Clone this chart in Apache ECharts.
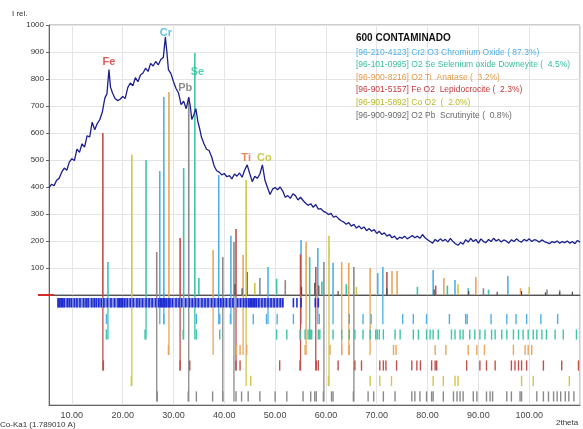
<!DOCTYPE html>
<html>
<head>
<meta charset="utf-8">
<script src="https://cdn.jsdelivr.net/npm/echarts@6/dist/echarts.min.js"></script>
<style>
  html, body { margin: 0; padding: 0; background: #fff; }
  #chart { width: 583px; height: 429px; }
</style>
</head>
<body>
<div id="chart"></div>
<script>
// measured pattern [2theta, I rel]
const pattern = [
  [5.5, 398], [6.0, 410], [6.5, 405], [7.0, 425], [7.5, 432], [8.0, 455], [8.5, 470], [9.0, 462],
  [9.5, 492], [10.0, 505], [10.5, 498], [11.0, 540], [11.5, 528], [12.0, 560], [12.5, 548], [13.0, 590],
  [13.5, 585], [14.0, 640], [14.5, 612], [15.0, 635], [15.5, 650], [16.0, 678], [16.5, 730], [16.9, 745],
  [17.3, 835], [17.6, 770], [18.0, 748], [18.5, 728], [19.0, 720], [19.5, 725], [20.0, 735], [20.5, 728],
  [21.0, 768], [21.5, 785], [22.0, 775], [22.5, 805], [23.0, 790], [23.5, 815], [24.0, 822], [24.5, 840],
  [25.0, 828], [25.5, 858], [26.0, 848], [26.5, 865], [27.0, 852], [27.5, 872], [28.0, 880], [28.4, 955],
  [28.7, 900], [29.0, 835], [29.5, 820], [30.0, 790], [30.5, 765], [31.0, 748], [31.5, 705], [32.0, 718],
  [32.5, 690], [33.0, 732], [33.3, 700], [33.6, 650], [34.0, 668], [34.4, 690], [34.8, 642], [35.2, 612],
  [35.5, 585], [36.0, 560], [36.5, 540], [37.0, 535], [37.5, 512], [38.0, 478], [38.5, 460], [39.0, 455],
  [39.5, 445], [40.0, 450], [40.5, 438], [41.0, 442], [41.5, 430], [42.0, 448], [42.5, 440], [43.0, 452],
  [43.5, 436], [44.0, 462], [44.5, 482], [45.0, 450], [45.5, 420], [46.0, 440], [46.5, 432], [47.0, 448],
  [47.5, 482], [48.0, 425], [48.5, 398], [49.0, 372], [49.5, 392], [50.0, 398], [50.5, 390], [51.0, 400],
  [51.5, 385], [52.0, 362], [52.5, 368], [53.0, 358], [53.5, 375], [54.0, 368], [54.5, 352], [55.0, 362],
  [55.5, 350], [56.0, 340], [56.5, 332], [57.0, 338], [57.5, 325], [58.0, 335], [58.5, 318], [59.0, 320],
  [59.5, 310], [60.0, 306], [60.5, 298], [61.0, 302], [61.5, 288], [62.0, 292], [62.5, 282], [63.0, 275],
  [63.5, 270], [64.0, 262], [64.5, 268], [65.0, 255], [65.5, 262], [66.0, 248], [66.5, 256], [67.0, 245],
  [67.5, 252], [68.0, 238], [68.5, 246], [69.0, 236], [69.5, 242], [70.0, 228], [70.5, 236], [71.0, 224],
  [71.5, 230], [72.0, 218], [72.5, 224], [73.0, 212], [73.5, 218], [74.0, 206], [74.5, 214], [75.0, 210],
  [75.5, 218], [76.0, 208], [76.5, 214], [77.0, 220], [77.5, 212], [78.0, 218], [78.5, 210], [79.0, 224],
  [79.5, 212], [80.0, 205], [80.5, 198], [81.0, 192], [81.5, 206], [82.0, 198], [82.5, 208], [83.0, 200],
  [83.5, 206], [84.0, 196], [84.5, 210], [85.0, 198], [85.5, 190], [86.0, 184], [86.5, 195], [87.0, 188],
  [87.5, 205], [88.0, 196], [88.5, 210], [89.0, 198], [89.5, 206], [90.0, 192], [90.5, 208], [91.0, 198],
  [91.5, 194], [92.0, 206], [92.5, 198], [93.0, 210], [93.5, 200], [94.0, 206], [94.5, 196], [95.0, 204],
  [95.5, 200], [96.0, 192], [96.5, 205], [97.0, 198], [97.5, 208], [98.0, 200], [98.5, 196], [99.0, 206],
  [99.5, 200], [100.0, 208], [100.5, 198], [101.0, 205], [101.5, 202], [102.0, 196], [102.5, 204], [103.0, 198],
  [103.5, 194], [104.0, 190], [104.5, 198], [105.0, 194], [105.5, 200], [106.0, 192], [106.5, 198], [107.0, 194],
  [107.5, 200], [108.0, 192], [108.5, 198], [109.0, 190], [109.5, 202], [110.0, 196]
];

// phase reference sticks [2theta, I rel]
const crSticks = [[27.3, 459], [28.1, 733], [38.9, 444], [41.3, 219], [48.6, 104], [55.1, 204], [58.4, 174],
  [61.4, 119], [70.2, 81], [71.2, 104], [81.1, 93], [85.4, 56], [95.8, 70]];
const seSticks = [[17.1, 122], [24.6, 500], [32.0, 470], [34.2, 896], [35.0, 63], [50.3, 60], [56.8, 140],
  [59.2, 50], [64.0, 40], [78.0, 30], [83.9, 35], [88.0, 25], [92.0, 20]];
const tiSticks = [[29.1, 752], [37.8, 167], [43.7, 148], [56.1, 196], [63.1, 122], [64.5, 119], [68.7, 100],
  [73.0, 89], [74.0, 89], [83.2, 63], [89.5, 67], [98.3, 25]];
const feSticks = [[16.1, 600], [31.3, 211], [42.3, 244], [44.5, 85], [55.0, 150], [58.0, 104], [72.0, 85], [81.6, 35]];
const coSticks = [[21.8, 519], [44.3, 426], [46.0, 45], [60.6, 219], [66.0, 30], [86.0, 40], [100.0, 30]];
const pbSticks = [[26.7, 159], [33.0, 733], [39.7, 141], [41.9, 196], [47.0, 63], [52.0, 55], [59.6, 122],
  [65.5, 104], [91.0, 25], [103.5, 20], [106.0, 18]];
const peakSticks = [[42.1, 40], [43.5, 25], [55.2, 30], [57.8, 45], [58.6, 35], [62.4, 15], [72.0, 25],
  [81.3, 20], [88.1, 15], [93.7, 12], [98.5, 15], [103.2, 10], [106.0, 10], [108.5, 12]];

// peak positions shown in the lower pane, one row per phase
const crTicks = [16.8, 28.1, 34.5, 39.1, 41.2, 45.7, 48.3, 50.4, 53.6, 58.7, 64.6, 67.3, 68.9, 75.1, 77.2, 79.8,
  84.3, 87.5, 87.8, 92.5, 95.6, 97.4, 99.5, 102.3, 105.6];
const seTicks = [16.8, 24.4, 31.9, 34.5, 39.1, 50.3, 52.3, 54.9, 55.9, 56.5, 56.9, 57.2, 58.5, 58.8, 61.4, 63.1,
  64.6, 65.7, 67.3, 68.7, 69.8, 70.1, 70.5, 71.3, 73.6, 74.6, 77.2, 78.2, 79.8, 80.5, 81.1, 82.1, 84.7, 85.4,
  86.4, 87.0, 88.3, 89.3, 90.3, 91.3, 92.6, 93.3, 94.6, 95.6, 96.9, 97.9, 98.8, 99.8, 100.8, 101.5, 102.5,
  103.4, 105.1, 106.7, 109.3];
const tiTicks = [29.0, 42.4, 43.1, 44.4, 55.9, 60.8, 63.1, 64.6, 73.3, 73.8, 81.5, 83.6, 88.0, 89.7, 91.2,
  96.9, 99.2, 99.8, 100.5];
const feTicks = [16.2, 31.3, 33.2, 42.3, 43.1, 50.9, 54.9, 58.1, 58.5, 62.4, 65.7, 67.0, 70.6, 71.3, 71.8,
  73.9, 76.9, 77.9, 78.6, 80.8, 81.5, 81.8, 87.7, 90.3, 91.6, 93.3, 96.5, 97.2, 97.9, 98.5, 99.5, 102.8,
  106.4, 109.7];
const coTicks = [21.7, 45.2, 60.5, 68.7, 70.6, 72.9, 81.1, 83.1, 85.4, 86.0, 98.5, 100.8, 107.9];
const pbTicks = [26.8, 32.9, 34.5, 37.7, 39.7, 42.3, 43.4, 44.7, 47.0, 50.0, 52.3, 55.5, 57.0, 57.8, 58.1,
  59.5, 61.1, 61.4, 65.4, 68.3, 69.4, 71.3, 73.6, 76.9, 77.5, 78.5, 79.8, 80.8, 81.1, 83.1, 85.1, 85.8, 86.4,
  87.0, 89.0, 89.7, 91.6, 92.3, 92.8, 95.6, 96.5, 98.2, 98.5, 101.5, 102.8, 103.8, 104.8, 105.5, 106.2,
  107.1, 107.8, 108.8];
const blueTicks = [7.3, 7.6, 7.9, 8.2, 8.5, 9.1, 9.5, 9.9, 10.5, 11.0, 11.6, 12.3, 12.8, 13.2, 13.9, 14.4,
  14.8, 15.3, 15.8, 16.3, 17.0, 17.7, 18.4, 19.1, 19.4, 19.7, 20.0, 20.4, 20.9, 21.5, 22.1, 22.8, 23.3, 23.9,
  24.6, 25.2, 25.8, 26.5, 27.1, 27.4, 27.7, 28.0, 28.3, 28.6, 29.0, 29.3, 29.8, 30.5, 31.1, 31.6, 32.4, 33.1,
  33.7, 34.3, 34.9, 35.6, 36.2, 36.8, 37.5, 38.1, 38.8, 39.3, 39.8, 40.4, 41.1, 41.7, 42.6, 43.2, 43.8, 44.3,
  44.8, 45.1, 45.4, 45.7, 46.0, 46.3, 46.8, 47.4, 48.0, 48.6, 49.2, 49.8, 50.4, 51.0, 51.5, 53.6, 54.3, 55.1,
  57.9, 58.5];
const blueBand = [[7.1, 51.7]];

const peakLabels = ['Fe', 'Cr', 'Se', 'Pb', 'Ti', 'Co'];
const peakLabelPos = [[17.3, 862], [28.5, 972], [34.7, 826], [32.3, 766], [44.3, 506], [47.9, 508]];

const phaseNames = [
  '[96-210-4123] Cr2 O3 Chromium Oxide ( 87.3%)',
  '[96-101-0995] O2 Se Selenium oxide Downeyite (  4.5%)',
  '[96-900-8216] O2 Ti  Anatase (  3.2%)',
  '[96-901-5157] Fe O2  Lepidocrocite (  2.3%)',
  '[96-901-5892] Co O2  (  2.0%)',
  '[96-900-9092] O2 Pb  Scrutinyite (  0.8%)'
];

const colors = {
  cr: '#4fb0e6', se: '#3fc4a8', ti: '#eaa65c', fe: '#c0504d', co: '#cfc64e', pb: '#8a8a8a'
};
const labelColors = ['#d42f2f', '#2fb4e0', '#2fc2a0', '#707070', '#e8682e', '#bcbc24'];

const X_MIN = 5.5, X_MAX = 110, LOW_TOP = 7.1;

function stickRender(color, width) {
  return function (params, api) {
    const p0 = api.coord([api.value(0), 0]);
    const p1 = api.coord([api.value(0), api.value(1)]);
    return {
      type: 'line',
      shape: { x1: p0[0], y1: p0[1], x2: p1[0], y2: p1[1] },
      style: { stroke: color, lineWidth: width }
    };
  };
}

function rowRender(color, width, toTop) {
  return function (params, api) {
    const row = api.value(1);
    const p0 = api.coord([api.value(0), row + 0.22]);
    const p1 = api.coord([api.value(0), toTop ? LOW_TOP : row + 0.88]);
    return {
      type: 'line',
      shape: { x1: p0[0], y1: p0[1], x2: p1[0], y2: p1[1] },
      style: { stroke: color, lineWidth: width }
    };
  };
}

function upper(name, data, color) {
  return {
    type: 'custom', name, xAxisIndex: 0, yAxisIndex: 0, z: 2,
    renderItem: stickRender(color, 1.6), encode: { x: 0, y: 1 }, data, silent: true
  };
}

function lower(name, ticks, sticks, row, color) {
  return [
    {
      type: 'custom', name: name + '-long', xAxisIndex: 1, yAxisIndex: 1, z: 2,
      renderItem: rowRender(color, 1.3, true), encode: { x: 0, y: 1 }, silent: true,
      data: sticks.filter(s => s[1] >= 100).map(s => [s[0], row])
    },
    {
      type: 'custom', name: name + '-row', xAxisIndex: 1, yAxisIndex: 1, z: 3,
      renderItem: rowRender(color, 1.4, false), encode: { x: 0, y: 1 }, silent: true,
      data: ticks.map(x => [x, row])
    }
  ];
}

const chart = echarts.init(document.getElementById('chart'));
const grid = { color: '#e4e4e4', width: 1 };
const texts = [
  { type: 'text', left: 12, top: 10, style: { text: 'I rel.', fontSize: 8, fill: '#333' } },
  { type: 'text', left: 0, top: 421, style: { text: 'Co-Ka1 (1.789010 A)', fontSize: 8, fill: '#333' } },
  { type: 'text', left: 556, top: 419, style: { text: '2theta', fontSize: 8, fill: '#333' } }
];

chart.setOption({
  animation: false,
  textStyle: { fontFamily: 'Liberation Sans, Arial, sans-serif' },
  title: {
    text: '600 CONTAMINADO',
    left: 351, top: 28,
    itemGap: 3,
    textStyle: { fontSize: 10, fontWeight: 'bold', color: '#111' },
    subtext: phaseNames.map((t, i) => '{p' + i + '|' + t + '}').join('\n'),
    subtextStyle: {
      fontSize: 8.5, lineHeight: 12.6,
      rich: {
        p0: { color: colors.cr, fontSize: 8.5, lineHeight: 12.6 },
        p1: { color: '#39bca0', fontSize: 8.5, lineHeight: 12.6 },
        p2: { color: '#e39a4a', fontSize: 8.5, lineHeight: 12.6 },
        p3: { color: '#c23b3b', fontSize: 8.5, lineHeight: 12.6 },
        p4: { color: '#b8b82a', fontSize: 8.5, lineHeight: 12.6 },
        p5: { color: '#6a6a6a', fontSize: 8.5, lineHeight: 12.6 }
      }
    }
  },
  grid: [
    { left: 49, top: 25, right: 3, height: 270, show: true, borderColor: '#9a9a9a', borderWidth: 1 },
    { left: 49, top: 295, right: 3, height: 110, show: true, borderColor: '#9a9a9a', borderWidth: 1 }
  ],
  xAxis: [
    {
      type: 'value', gridIndex: 0, min: X_MIN, max: X_MAX, splitNumber: 10,
      axisLine: { onZero: false, lineStyle: { color: '#555', width: 1.2 } },
      axisTick: { show: false }, axisLabel: { show: false },
      splitLine: { lineStyle: grid }
    },
    {
      type: 'value', gridIndex: 1, min: X_MIN, max: X_MAX, splitNumber: 10,
      axisLine: { onZero: false, lineStyle: { color: '#666' } },
      axisTick: { show: false },
      axisLabel: {
        fontSize: 9, color: '#444', margin: 6, showMinLabel: false, showMaxLabel: false,
        formatter: v => v.toFixed(2)
      },
      splitLine: { lineStyle: grid }
    }
  ],
  yAxis: [
    {
      type: 'value', gridIndex: 0, min: 0, max: 1000, interval: 100,
      axisLine: { show: true, lineStyle: { color: '#666' } },
      axisTick: { show: true, length: 3, lineStyle: { color: '#666' } },
      axisLabel: { fontSize: 8, color: '#333', margin: 5, showMinLabel: false, formatter: v => String(v) },
      splitLine: { lineStyle: grid }
    },
    {
      type: 'value', gridIndex: 1, min: 0, max: LOW_TOP,
      axisLine: { show: true, lineStyle: { color: '#666' } },
      axisTick: { show: false }, axisLabel: { show: false }, splitLine: { show: false }
    }
  ],
  graphic: texts,
  series: [
    upper('Cr', crSticks, colors.cr),
    upper('Se', seSticks, colors.se),
    upper('Ti', tiSticks, colors.ti),
    upper('Fe', feSticks, colors.fe),
    upper('Co', coSticks, colors.co),
    upper('Pb', pbSticks, colors.pb),
    {
      type: 'custom', name: 'peaks', xAxisIndex: 0, yAxisIndex: 0, z: 2,
      renderItem: stickRender('#4a4a4a', 1.2), encode: { x: 0, y: 1 }, data: peakSticks, silent: true
    },
    ...lower('Cr', crTicks, crSticks, 5, colors.cr),
    ...lower('Se', seTicks, seSticks, 4, colors.se),
    ...lower('Ti', tiTicks, tiSticks, 3, colors.ti),
    ...lower('Fe', feTicks, feSticks, 2, colors.fe),
    ...lower('Co', coTicks, coSticks, 1, colors.co),
    ...lower('Pb', pbTicks, pbSticks, 0, colors.pb),
    {
      type: 'custom', name: 'band', xAxisIndex: 1, yAxisIndex: 1, z: 4, silent: true,
      encode: { x: [0, 1] },
      renderItem: function (params, api) {
        const a = api.coord([api.value(0), 6.9]);
        const b = api.coord([api.value(1), 6.3]);
        return { type: 'rect', shape: { x: a[0], y: a[1], width: b[0] - a[0], height: b[1] - a[1] }, style: { fill: '#8e97e2' } };
      },
      data: blueBand
    },
    {
      type: 'custom', name: 'blue', xAxisIndex: 1, yAxisIndex: 1, z: 5, silent: true,
      encode: { x: 0, y: 1 },
      renderItem: function (params, api) {
        const a = api.coord([api.value(0), 6.9]);
        const b = api.coord([api.value(0), 6.3]);
        return { type: 'line', shape: { x1: a[0], y1: a[1], x2: b[0], y2: b[1] }, style: { stroke: '#1d2bd0', lineWidth: 1.6 } };
      },
      data: blueTicks.map(x => [x, 6])
    },
    {
      type: 'line', name: 'pattern', xAxisIndex: 0, yAxisIndex: 0, z: 10,
      data: pattern, showSymbol: false, smooth: false,
      lineStyle: { color: '#1b1f8a', width: 1.3 }
    },
    {
      type: 'scatter', name: 'labels', xAxisIndex: 0, yAxisIndex: 0, z: 11, symbolSize: 0, silent: true,
      data: peakLabels.map((t, i) => ({
        name: t, value: peakLabelPos[i],
        label: { show: true, formatter: '{b}', position: 'inside', fontSize: 11, fontWeight: 'bold', color: labelColors[i] }
      }))
    }
  ]
});

// red zero marker left of the plot
const z = chart.convertToPixel({ gridIndex: 0 }, [X_MIN, 0]);
chart.setOption({
  graphic: texts.concat([
    { type: 'line', shape: { x1: z[0] - 11, y1: z[1], x2: z[0] + 5, y2: z[1] }, style: { stroke: '#d42a2a', lineWidth: 2 }, z: 20 }
  ])
});
</script>
</body>
</html>
